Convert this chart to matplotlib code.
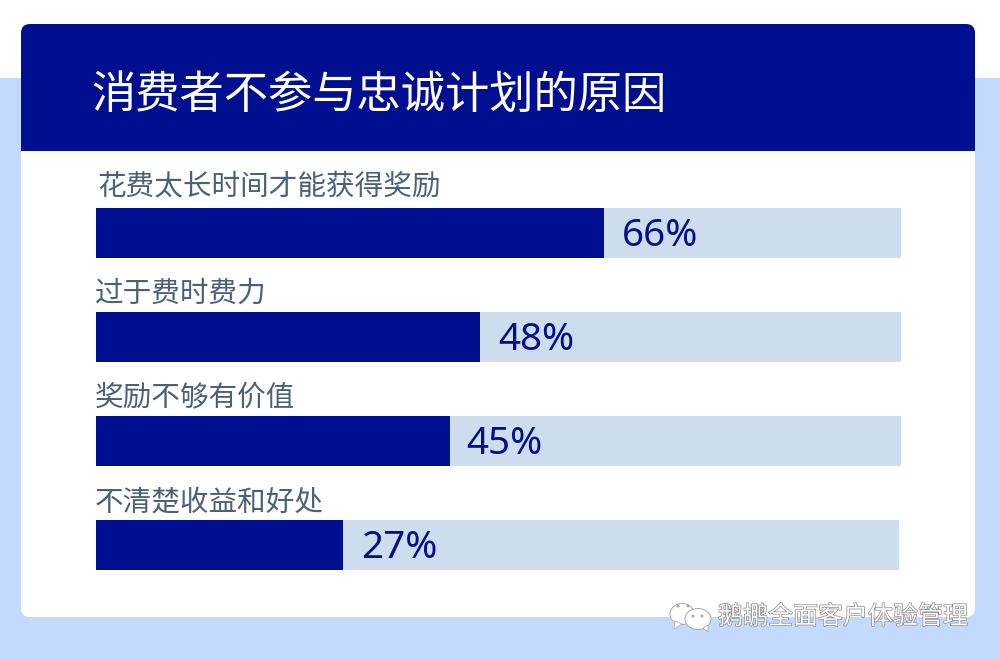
import matplotlib
matplotlib.use('Agg')
import matplotlib.pyplot as plt
import matplotlib.patheffects as pe
from matplotlib.patches import FancyBboxPatch, Rectangle, Ellipse, Polygon

plt.rcParams['font.family'] = ['Noto Sans CJK SC', 'DejaVu Sans']

title = '消费者不参与忠诚计划的原因'
categories = ['花费太长时间才能获得奖励', '过于费时费力', '奖励不够有价值', '不清楚收益和好处']
percent_labels = ['66%', '48%', '45%', '27%']
# drawn bar lengths (the original is not to scale with its labels)
bar_lengths = [63.1, 47.7, 44.0, 30.7]
track_lengths = [100, 100, 100, 99.75]
watermark = '鹅鹕全面客户体验管理'

NAVY = '#000F8F'
TRACK = '#CEDDEE'
BG = '#C4DAFD'
LABEL = '#4B6178'
W, H = 1000, 660

fig = plt.figure(figsize=(W / 100, H / 100), dpi=100, facecolor='white')

# page furniture in pixel coordinates
bg = fig.add_axes([0, 0, 1, 1])
bg.set_xlim(0, W)
bg.set_ylim(H, 0)
bg.axis('off')
bg.add_patch(Rectangle((0, 78), W, H - 78, fc=BG, ec='none'))
bg.add_patch(FancyBboxPatch((29, 32), 938, 577, boxstyle='round,pad=8,rounding_size=9', fc='white', ec='none'))
bg.add_patch(FancyBboxPatch((29, 32), 938, 100, boxstyle='round,pad=8,rounding_size=9', fc=NAVY, ec='none'))
bg.add_patch(Rectangle((21, 90), 954, 61, fc=NAVY, ec='none'))
bg.text(91, 95, title, color='white', fontsize=31.9, va='center', ha='left')

# bars
ax = fig.add_axes([96 / W, 1 - 597 / H, 805 / W, 416 / H])
ax.patch.set_alpha(0)
ax.set_xlim(0, 100)
ax.set_ylim(3.5, -0.5)
ax.axis('off')
ys = range(len(categories))
ax.barh(ys, track_lengths, height=50 / 104, color=TRACK, linewidth=0)
ax.barh(ys, bar_lengths, height=50 / 104, color=NAVY, linewidth=0)
pct_dx = [18, 18, 16, 18]
cat_dx = [2, -1, -1, -1]
cat_dy = [47, 43, 43, 42]
for y, cat, val, lab in zip(ys, categories, bar_lengths, percent_labels):
    ax.annotate(lab, (val, y), xytext=(pct_dx[y], 2), textcoords='offset pixels', color=NAVY,
                fontsize=27.8, va='center_baseline', ha='left', family=['Noto Sans', 'DejaVu Sans'])
    ax.annotate(cat, (0, y), xytext=(cat_dx[y], cat_dy[y]), textcoords='offset pixels', color=LABEL,
                fontsize=20.6, va='center', ha='left')

# watermark
shadow = [pe.withStroke(linewidth=1.0, foreground='#8a8a8a')]
bg.text(718, 617, watermark, color='white', fontsize=18, va='center', ha='left', path_effects=shadow)
for xy, w, h in [((682, 614), 24, 21), ((698, 619), 26, 21)]:
    bg.add_patch(Ellipse(xy, w, h, fc='white', ec='#a8a8a8', lw=0.7))
bg.add_patch(Polygon([(675, 621), (674, 629), (682, 624)], fc='white', ec='#a8a8a8', lw=0.5))
bg.add_patch(Polygon([(703, 628), (708, 632), (708, 625)], fc='white', ec='#a8a8a8', lw=0.5))
for x, y in [(678, 606), (688, 606), (693, 616), (702, 616)]:
    bg.add_patch(Ellipse((x, y), 3, 3, fc='#aaaaaa', ec='none'))

fig.savefig('out.png', dpi=100, facecolor='white')
